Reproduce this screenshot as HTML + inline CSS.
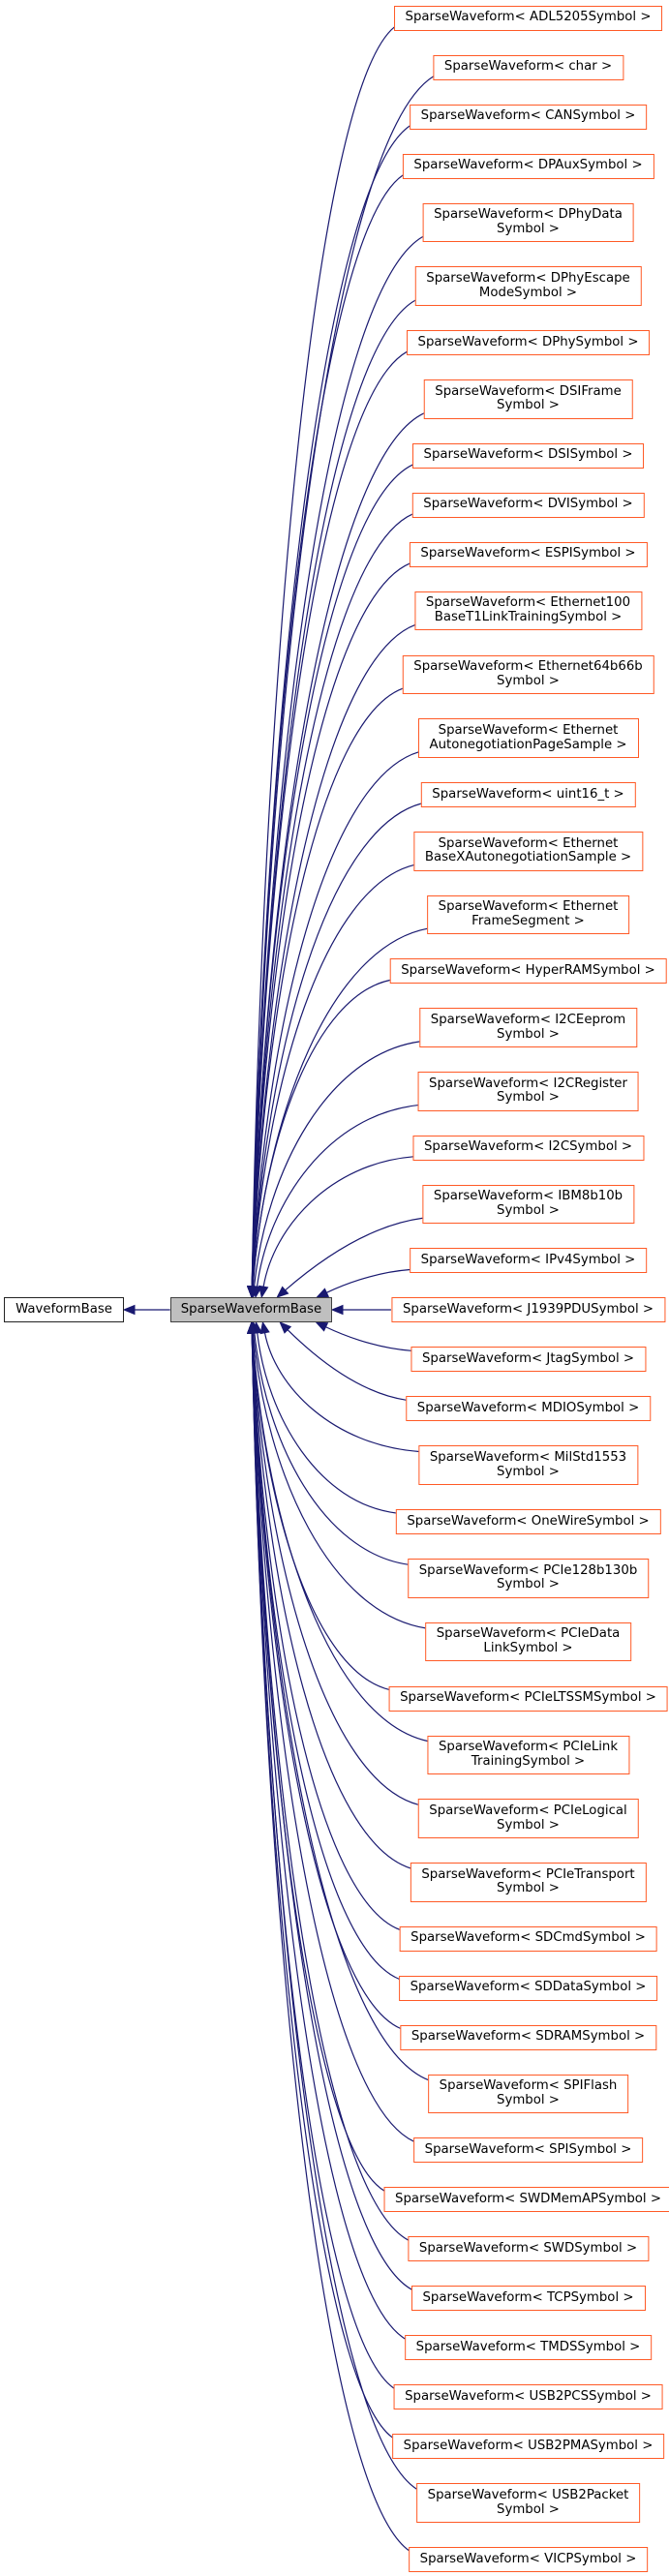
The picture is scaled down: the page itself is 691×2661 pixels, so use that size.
<!DOCTYPE html>
<html><head><meta charset="utf-8">
<style>
html,body{margin:0;padding:0;background:#fff;}
body{width:691px;height:2661px;position:relative;overflow:hidden;font-family:"DejaVu Sans","Liberation Sans",sans-serif;font-size:13.3px;color:#000;}
.b{position:absolute;left:545.5px;transform:translateX(-50%);border:1.3px solid #ff5a26;box-sizing:border-box;background:#fff;white-space:nowrap;text-align:center;padding:0 11px;line-height:14.7px;display:flex;flex-direction:column;justify-content:center;}
.s{height:26px;}
.d{height:40.7px;}
#c{position:absolute;left:175.7px;top:1340px;width:167.5px;height:26px;background:#bfbfbf;border:1.3px solid #404040;box-sizing:border-box;text-align:center;line-height:23.5px;}
#w{position:absolute;left:4.3px;top:1340px;width:123.5px;height:26px;background:#fff;border:1.3px solid #222;box-sizing:border-box;text-align:center;line-height:23.5px;}
svg{position:absolute;left:0;top:0;}
</style></head><body>
<svg id="sv" width="691" height="2661"></svg>
<div id="w">WaveformBase</div>
<div id="c">SparseWaveformBase</div>
<div class="b s" style="top:5.7px">SparseWaveform&lt; ADL5205Symbol &gt;</div>
<div class="b s" style="top:56.7px">SparseWaveform&lt; char &gt;</div>
<div class="b s" style="top:107.7px">SparseWaveform&lt; CANSymbol &gt;</div>
<div class="b s" style="top:158.7px">SparseWaveform&lt; DPAuxSymbol &gt;</div>
<div class="b d" style="top:209.7px"><div>SparseWaveform&lt; DPhyData</div><div>Symbol &gt;</div></div>
<div class="b d" style="top:275.4px"><div>SparseWaveform&lt; DPhyEscape</div><div>ModeSymbol &gt;</div></div>
<div class="b s" style="top:341.1px">SparseWaveform&lt; DPhySymbol &gt;</div>
<div class="b d" style="top:392.1px"><div>SparseWaveform&lt; DSIFrame</div><div>Symbol &gt;</div></div>
<div class="b s" style="top:457.8px">SparseWaveform&lt; DSISymbol &gt;</div>
<div class="b s" style="top:508.8px">SparseWaveform&lt; DVISymbol &gt;</div>
<div class="b s" style="top:559.8px">SparseWaveform&lt; ESPISymbol &gt;</div>
<div class="b d" style="top:610.8px"><div>SparseWaveform&lt; Ethernet100</div><div>BaseT1LinkTrainingSymbol &gt;</div></div>
<div class="b d" style="top:676.5px"><div>SparseWaveform&lt; Ethernet64b66b</div><div>Symbol &gt;</div></div>
<div class="b d" style="top:742.2px"><div>SparseWaveform&lt; Ethernet</div><div>AutonegotiationPageSample &gt;</div></div>
<div class="b s" style="top:807.9px">SparseWaveform&lt; uint16_t &gt;</div>
<div class="b d" style="top:858.9px"><div>SparseWaveform&lt; Ethernet</div><div>BaseXAutonegotiationSample &gt;</div></div>
<div class="b d" style="top:924.6px"><div>SparseWaveform&lt; Ethernet</div><div>FrameSegment &gt;</div></div>
<div class="b s" style="top:990.3px">SparseWaveform&lt; HyperRAMSymbol &gt;</div>
<div class="b d" style="top:1041.3px"><div>SparseWaveform&lt; I2CEeprom</div><div>Symbol &gt;</div></div>
<div class="b d" style="top:1107px"><div>SparseWaveform&lt; I2CRegister</div><div>Symbol &gt;</div></div>
<div class="b s" style="top:1172.7px">SparseWaveform&lt; I2CSymbol &gt;</div>
<div class="b d" style="top:1223.7px"><div>SparseWaveform&lt; IBM8b10b</div><div>Symbol &gt;</div></div>
<div class="b s" style="top:1289.4px">SparseWaveform&lt; IPv4Symbol &gt;</div>
<div class="b s" style="top:1340.4px">SparseWaveform&lt; J1939PDUSymbol &gt;</div>
<div class="b s" style="top:1391.4px">SparseWaveform&lt; JtagSymbol &gt;</div>
<div class="b s" style="top:1442.4px">SparseWaveform&lt; MDIOSymbol &gt;</div>
<div class="b d" style="top:1493.4px"><div>SparseWaveform&lt; MilStd1553</div><div>Symbol &gt;</div></div>
<div class="b s" style="top:1559.1px">SparseWaveform&lt; OneWireSymbol &gt;</div>
<div class="b d" style="top:1610.1px"><div>SparseWaveform&lt; PCIe128b130b</div><div>Symbol &gt;</div></div>
<div class="b d" style="top:1675.8px"><div>SparseWaveform&lt; PCIeData</div><div>LinkSymbol &gt;</div></div>
<div class="b s" style="top:1741.5px">SparseWaveform&lt; PCIeLTSSMSymbol &gt;</div>
<div class="b d" style="top:1792.5px"><div>SparseWaveform&lt; PCIeLink</div><div>TrainingSymbol &gt;</div></div>
<div class="b d" style="top:1858.2px"><div>SparseWaveform&lt; PCIeLogical</div><div>Symbol &gt;</div></div>
<div class="b d" style="top:1923.9px"><div>SparseWaveform&lt; PCIeTransport</div><div>Symbol &gt;</div></div>
<div class="b s" style="top:1989.6px">SparseWaveform&lt; SDCmdSymbol &gt;</div>
<div class="b s" style="top:2040.6px">SparseWaveform&lt; SDDataSymbol &gt;</div>
<div class="b s" style="top:2091.6px">SparseWaveform&lt; SDRAMSymbol &gt;</div>
<div class="b d" style="top:2142.6px"><div>SparseWaveform&lt; SPIFlash</div><div>Symbol &gt;</div></div>
<div class="b s" style="top:2208.3px">SparseWaveform&lt; SPISymbol &gt;</div>
<div class="b s" style="top:2259.3px">SparseWaveform&lt; SWDMemAPSymbol &gt;</div>
<div class="b s" style="top:2310.3px">SparseWaveform&lt; SWDSymbol &gt;</div>
<div class="b s" style="top:2361.3px">SparseWaveform&lt; TCPSymbol &gt;</div>
<div class="b s" style="top:2412.3px">SparseWaveform&lt; TMDSSymbol &gt;</div>
<div class="b s" style="top:2463.3px">SparseWaveform&lt; USB2PCSSymbol &gt;</div>
<div class="b s" style="top:2514.3px">SparseWaveform&lt; USB2PMASymbol &gt;</div>
<div class="b d" style="top:2565.3px"><div>SparseWaveform&lt; USB2Packet</div><div>Symbol &gt;</div></div>
<div class="b s" style="top:2631px">SparseWaveform&lt; VICPSymbol &gt;</div>
<script>
(function(){
var sv=document.getElementById('sv');var col='#191970';
var out='';
function arrow(tx,ty,dx,dy){var l=Math.sqrt(dx*dx+dy*dy);dx/=l;dy/=l;var L=11,W=4.5;
var bx=tx-dx*L,by=ty-dy*L;
out+='<polygon points="'+tx+','+ty+' '+(bx-dy*W)+','+(by+dx*W)+' '+(bx+dy*W)+','+(by-dx*W)+'" fill="'+col+'" stroke="'+col+'" stroke-width="1"/>';
return [bx,by];}
var b0=arrow(128,1353,-1,0);
out+='<path d="M175.7,1353 L'+b0[0]+',1353" stroke="'+col+'" stroke-width="1.2" fill="none"/>';
var boxes=document.querySelectorAll('.b');
var cy=1353;
boxes.forEach(function(b){
 var r=b.getBoundingClientRect();var L=r.left,t=r.top,h=r.height,my=t+h/2;
 if(Math.abs(my-cy)<5){var a=arrow(343,cy,-1,0);out+='<path d="M'+L+','+cy+' L'+a[0]+','+cy+'" stroke="'+col+'" stroke-width="1.2" fill="none"/>';return;}
 var above=my<cy;var d=Math.abs(my-cy);
 var xe=260+67*Math.exp(-(d-51)/62);
 var ye=above?1340:1366;
 var sy=above?t+h*0.85:t+h*0.15;var sx=L+1;
 var c1x=xe+(sx-xe)*0.45,c1y=sy+(ye-sy)*0.05;
 var c2x=xe+(sx-xe)*0.08,c2y=sy+(ye-sy)*0.5;
 if(d<120){c1x=xe+(sx-xe)*0.6;c1y=sy+(ye-sy)*0.1;c2x=xe+(sx-xe)*0.25;c2y=sy+(ye-sy)*0.6;}
 var a=arrow(xe,ye,xe-c2x,ye-c2y);
 out+='<path d="M'+sx+','+sy+' C'+c1x+','+c1y+' '+c2x+','+c2y+' '+a[0]+','+a[1]+'" stroke="'+col+'" stroke-width="1.2" fill="none"/>';
});
sv.innerHTML=out;
})();
</script>
</body></html>
